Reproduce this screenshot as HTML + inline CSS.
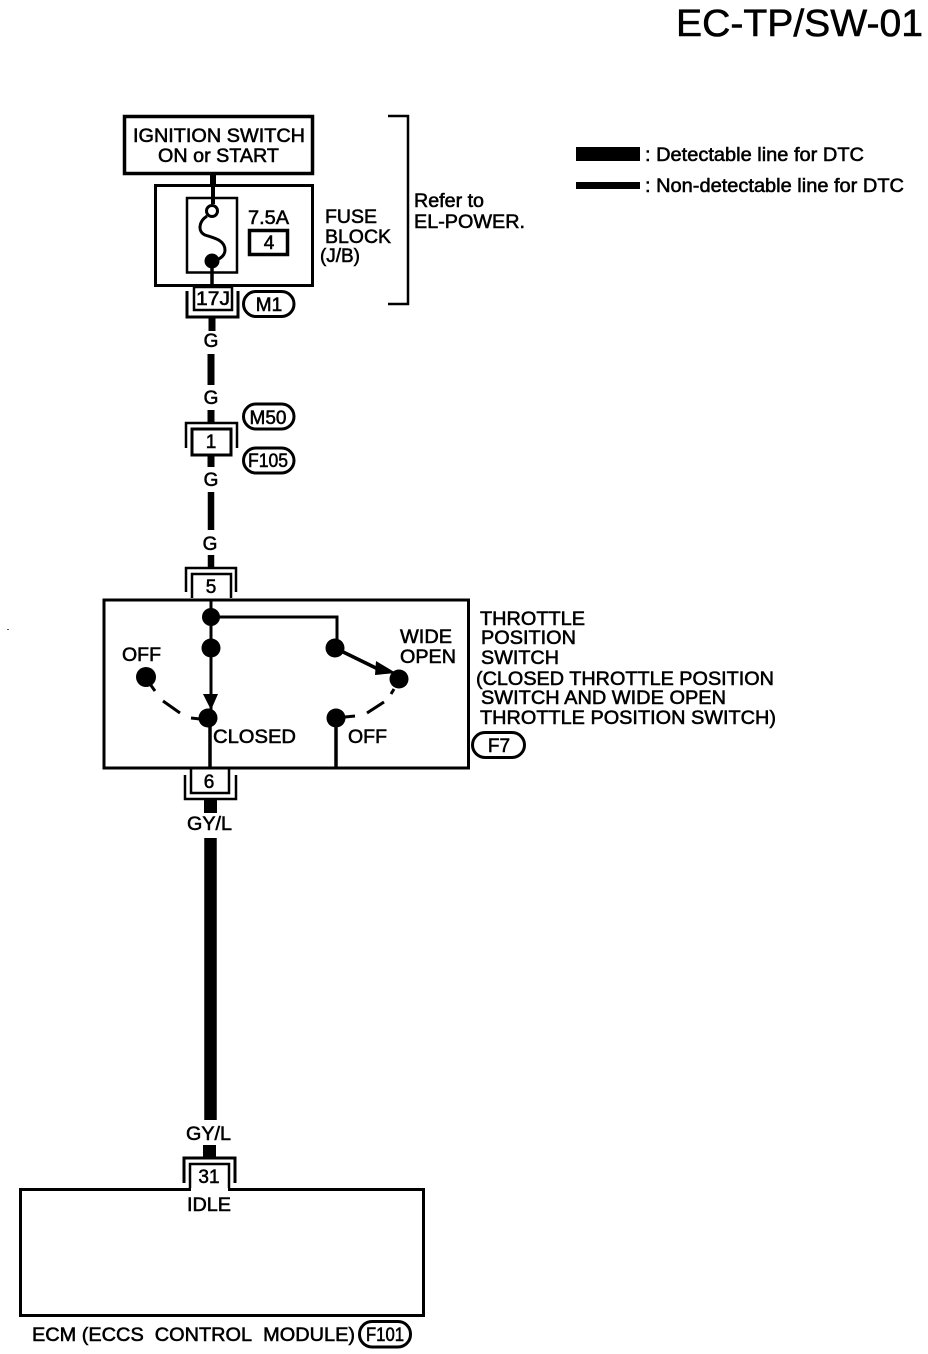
<!DOCTYPE html>
<html><head><meta charset="utf-8">
<style>
html,body{margin:0;padding:0;background:#fff;width:928px;height:1354px;overflow:hidden}
svg{display:block}
text{font-family:"Liberation Sans",sans-serif;font-size:19px;fill:#000;stroke:#000;stroke-width:.55}
.c{text-anchor:middle}
</style></head><body>
<svg width="928" height="1354" viewBox="0 0 928 1354" xmlns="http://www.w3.org/2000/svg">
<rect width="928" height="1354" fill="#fff"/>
<g fill="none" stroke="#000">
<!-- top boxes -->
<rect x="124.500" y="116.500" width="188" height="57" stroke-width="3.500"/>
<rect x="155.500" y="185.500" width="157" height="100" stroke-width="3"/>
<rect x="187" y="198" width="50" height="74.500" stroke-width="2.500"/>
<rect x="249.500" y="230.500" width="38" height="24" stroke-width="3.500"/>
<path d="M388 116H408V304H388" stroke-width="2.500"/>
<path d="M213 174V186" stroke-width="6"/>
<path d="M213 186V204" stroke-width="4"/>
<circle cx="212" cy="211" r="5.500" stroke-width="3"/>
<path d="M207 216C198 222 198 232 205 235C214 238 225 240 225 250C225 256 220 259 214 261" stroke-width="3"/>
<path d="M212 261V287" stroke-width="3.500"/>
<!-- 17J -->
<rect x="194" y="287" width="38" height="23" stroke-width="2.500"/>
<path d="M187 291V317H238V291" stroke-width="3"/>
<rect x="243.500" y="291.500" width="50.500" height="25" rx="12.500" stroke-width="3"/>
<!-- wires -->
<path d="M212 317V331" stroke-width="7"/>
<path d="M211 354V385" stroke-width="7"/>
<path d="M211 410V424" stroke-width="7"/>
<!-- conn 1 -->
<path d="M186 448V423H237V448" stroke-width="2.500"/>
<rect x="192" y="429" width="39" height="26" stroke-width="3"/>
<rect x="243.500" y="404" width="50.500" height="25" rx="12.500" stroke-width="3"/>
<rect x="243.500" y="448" width="50.500" height="25" rx="12.500" stroke-width="3"/>
<path d="M211 455V467" stroke-width="7"/>
<path d="M211 492V530" stroke-width="6.500"/>
<path d="M211 555V568" stroke-width="6.500"/>
<!-- conn 5 -->
<path d="M186 592V568H236V592" stroke-width="2.500"/>
<path d="M192 598V574H231V598" stroke-width="2.500"/>
<!-- switch box -->
<rect x="104" y="600" width="364.500" height="168" stroke-width="3"/>
<path d="M211 600V712" stroke-width="3"/>
<path d="M211 617H337V648" stroke-width="3"/>
<path d="M335 648L380 670" stroke-width="3.500"/>
<path d="M210 722V768M336 718V768" stroke-width="3.500"/>
<!-- dashes -->
<path d="M150 684L155 691M163 701L180 713M191 718L200 719" stroke-width="3"/>
<path d="M394 689L391 694M384 702L367 713M345 717L355 716" stroke-width="3"/>
<!-- conn 6 -->
<path d="M185 775V799H236V775" stroke-width="2.500"/>
<path d="M191 769V793H229V769" stroke-width="2.500"/>
<rect x="472.500" y="732.500" width="52" height="25" rx="12.500" stroke-width="3"/>
<!-- thick wire -->
<path d="M210.500 800V813" stroke-width="13"/>
<path d="M210.500 838V1120" stroke-width="12.500"/>
<path d="M209.500 1145V1158" stroke-width="13"/>
<!-- conn 31 -->
<path d="M184 1183V1158H235V1183" stroke-width="3"/>
<path d="M190 1190V1164H229V1190" stroke-width="2.500"/>
<!-- ECM -->
<rect x="20.500" y="1189.500" width="403" height="126" stroke-width="3"/>
<rect x="359.500" y="1321.500" width="51" height="25.500" rx="12.500" stroke-width="3"/>
</g>
<rect x="576" y="147" width="64" height="14" fill="#000"/>
<rect x="576" y="182" width="64" height="7" fill="#000"/>
<rect x="191" y="1188" width="37" height="3" fill="#fff"/>
<g fill="#000">
<circle cx="212" cy="261" r="7.500"/>
<circle cx="211" cy="617" r="9"/>
<circle cx="211" cy="648" r="9.500"/>
<circle cx="146" cy="677" r="10"/>
<circle cx="208" cy="718" r="9.500"/>
<circle cx="335" cy="648" r="9.500"/>
<circle cx="399" cy="679" r="9.500"/>
<circle cx="336" cy="718" r="9.500"/>
<path d="M203 694H218L211 710Z"/>
<path d="M376 661L396 673L375 675Z"/>
</g>
<text x="676" y="36" style="font-size:38px" textLength="247" lengthAdjust="spacingAndGlyphs">EC-TP/SW-01</text>
<text x="133" y="142" textLength="172" lengthAdjust="spacingAndGlyphs">IGNITION SWITCH</text>
<text x="158" y="162" textLength="121" lengthAdjust="spacingAndGlyphs">ON or START</text>
<text x="248" y="224" textLength="41" lengthAdjust="spacingAndGlyphs">7.5A</text>
<text x="269" y="249" class="c">4</text>
<text x="325" y="223" textLength="52" lengthAdjust="spacingAndGlyphs">FUSE</text>
<text x="325" y="243" textLength="66" lengthAdjust="spacingAndGlyphs">BLOCK</text>
<text x="320" y="262" textLength="40" lengthAdjust="spacingAndGlyphs">(J/B)</text>
<text x="414" y="207" textLength="70" lengthAdjust="spacingAndGlyphs">Refer to</text>
<text x="414" y="228" textLength="111" lengthAdjust="spacingAndGlyphs">EL-POWER.</text>
<text x="645" y="161" textLength="219" lengthAdjust="spacingAndGlyphs">: Detectable line for DTC</text>
<text x="645" y="192" textLength="259" lengthAdjust="spacingAndGlyphs">: Non-detectable line for DTC</text>
<text x="196" y="305" textLength="34" lengthAdjust="spacingAndGlyphs">17J</text>
<text x="269" y="311" class="c">M1</text>
<text x="211" y="347" class="c">G</text>
<text x="211" y="404" class="c">G</text>
<text x="268" y="424" class="c">M50</text>
<text x="211" y="448" class="c">1</text>
<text x="268" y="467" class="c" textLength="40" lengthAdjust="spacingAndGlyphs">F105</text>
<text x="211" y="486" class="c">G</text>
<text x="210" y="550" class="c">G</text>
<text x="211" y="593" class="c">5</text>
<text x="480" y="625" textLength="105" lengthAdjust="spacingAndGlyphs">THROTTLE</text>
<text x="481" y="644" textLength="95" lengthAdjust="spacingAndGlyphs">POSITION</text>
<text x="481" y="664" textLength="78" lengthAdjust="spacingAndGlyphs">SWITCH</text>
<text x="476" y="685" textLength="298" lengthAdjust="spacingAndGlyphs">(CLOSED THROTTLE POSITION</text>
<text x="481" y="704" textLength="245" lengthAdjust="spacingAndGlyphs">SWITCH AND WIDE OPEN</text>
<text x="480" y="724" textLength="296" lengthAdjust="spacingAndGlyphs">THROTTLE POSITION SWITCH)</text>
<text x="499" y="752" class="c">F7</text>
<text x="400" y="643" textLength="52" lengthAdjust="spacingAndGlyphs">WIDE</text>
<text x="400" y="663" textLength="56" lengthAdjust="spacingAndGlyphs">OPEN</text>
<text x="122" y="661" textLength="39" lengthAdjust="spacingAndGlyphs">OFF</text>
<text x="213" y="743" textLength="83" lengthAdjust="spacingAndGlyphs">CLOSED</text>
<text x="348" y="743" textLength="39" lengthAdjust="spacingAndGlyphs">OFF</text>
<text x="209" y="788" class="c">6</text>
<text x="187" y="830" textLength="45" lengthAdjust="spacingAndGlyphs">GY/L</text>
<text x="186" y="1140" textLength="45" lengthAdjust="spacingAndGlyphs">GY/L</text>
<text x="209" y="1183" class="c">31</text>
<text x="187" y="1211" textLength="44" lengthAdjust="spacingAndGlyphs">IDLE</text>
<text x="32" y="1341" textLength="323" lengthAdjust="spacingAndGlyphs">ECM (ECCS&#160;&#160;CONTROL&#160;&#160;MODULE)</text>
<text x="385" y="1341" class="c" textLength="38" lengthAdjust="spacingAndGlyphs">F101</text>
<rect x="7" y="629" width="2" height="1" fill="#555"/>
</svg>
</body></html>
